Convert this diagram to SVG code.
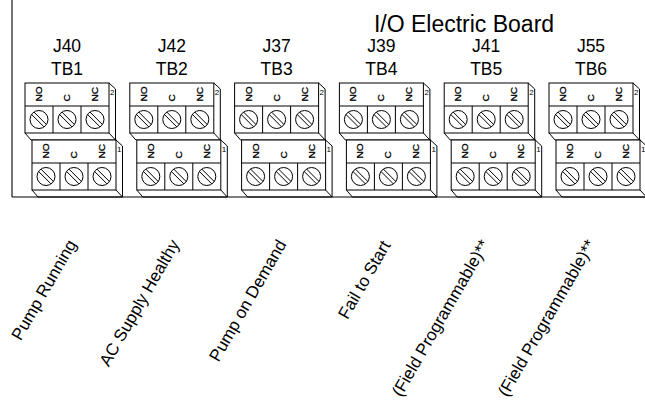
<svg xmlns="http://www.w3.org/2000/svg" xmlns:xlink="http://www.w3.org/1999/xlink" width="645" height="409" viewBox="0 0 645 409">
<style>
.ln{fill:none;stroke:#000;stroke-width:1}
.bx{fill:#fff;stroke:#000;stroke-width:1}
.sm{font-family:"Liberation Sans",Arial,sans-serif;font-size:8px;fill:#000}
.lb{font-family:"Liberation Sans",Arial,sans-serif;font-size:11px;fill:#000;stroke:#000;stroke-width:0.35}
.hd{font-family:"Liberation Sans",Arial,sans-serif;font-size:17.5px;fill:#000;text-anchor:middle}
.tt{font-family:"Liberation Sans",Arial,sans-serif;font-size:23px;fill:#000;text-anchor:middle}
.rl{font-family:"Liberation Sans",Arial,sans-serif;font-size:17px;fill:#000;text-anchor:end}
</style>
<defs>
<g id="screw">
<circle cx="0" cy="0" r="9" class="ln"/>
<path d="M-5.05,-7.45 L7.45,5.05 M-7.45,-5.05 L5.05,7.45" class="ln"/>
</g>
<g id="term">
<rect x="0" y="0" width="84" height="50" class="bx"/>
<path d="M0,23 H84 M28,23 V50 M56,23 V50 M84,0 L90.5,6 V57 M0,50 L6,57 H90.5 M84,50 L90.5,57" class="ln"/>
<use xlink:href="#screw" x="14" y="36.5"/>
<use xlink:href="#screw" x="42" y="36.5"/>
<use xlink:href="#screw" x="70" y="36.5"/>
</g>
</defs>
<g id="board">
<line x1="12" y1="0" x2="12" y2="197" stroke="#444" stroke-width="1.5"/>
<line x1="12" y1="197" x2="645" y2="197" class="ln"/>
<text class="tt" x="464" y="32">I/O Electric Board</text>
</g>
<g id="tb1" transform="translate(0,0)">
<text class="hd" x="67" y="52">J40</text><text class="hd" x="67" y="75">TB1</text>
<use xlink:href="#term" x="25" y="83"/>
<text class="lb" transform="translate(42,101.5) rotate(-90) scale(0.92,0.85)">NO</text>
<text class="lb" transform="translate(70,101.5) rotate(-90) scale(0.92,0.85)">C</text>
<text class="lb" transform="translate(98,101.5) rotate(-90) scale(0.92,0.85)">NC</text>
<text class="sm" x="110" y="95">2</text>
<use xlink:href="#term" x="32" y="140"/>
<text class="lb" transform="translate(49,158.5) rotate(-90) scale(0.92,0.85)">NO</text>
<text class="lb" transform="translate(77,158.5) rotate(-90) scale(0.92,0.85)">C</text>
<text class="lb" transform="translate(105,158.5) rotate(-90) scale(0.92,0.85)">NC</text>
<text class="sm" x="117" y="152">1</text>
<text class="rl" transform="translate(77,244) rotate(-60)">Pump Running</text>
</g>
<g id="tb2" transform="translate(104.8,0)">
<text class="hd" x="67" y="52">J42</text><text class="hd" x="67" y="75">TB2</text>
<use xlink:href="#term" x="25" y="83"/>
<text class="lb" transform="translate(42,101.5) rotate(-90) scale(0.92,0.85)">NO</text>
<text class="lb" transform="translate(70,101.5) rotate(-90) scale(0.92,0.85)">C</text>
<text class="lb" transform="translate(98,101.5) rotate(-90) scale(0.92,0.85)">NC</text>
<text class="sm" x="110" y="95">2</text>
<use xlink:href="#term" x="32" y="140"/>
<text class="lb" transform="translate(49,158.5) rotate(-90) scale(0.92,0.85)">NO</text>
<text class="lb" transform="translate(77,158.5) rotate(-90) scale(0.92,0.85)">C</text>
<text class="lb" transform="translate(105,158.5) rotate(-90) scale(0.92,0.85)">NC</text>
<text class="sm" x="117" y="152">1</text>
<text class="rl" transform="translate(75.2,244) rotate(-60)">AC Supply Healthy</text>
</g>
<g id="tb3" transform="translate(209.6,0)">
<text class="hd" x="67" y="52">J37</text><text class="hd" x="67" y="75">TB3</text>
<use xlink:href="#term" x="25" y="83"/>
<text class="lb" transform="translate(42,101.5) rotate(-90) scale(0.92,0.85)">NO</text>
<text class="lb" transform="translate(70,101.5) rotate(-90) scale(0.92,0.85)">C</text>
<text class="lb" transform="translate(98,101.5) rotate(-90) scale(0.92,0.85)">NC</text>
<text class="sm" x="110" y="95">2</text>
<use xlink:href="#term" x="32" y="140"/>
<text class="lb" transform="translate(49,158.5) rotate(-90) scale(0.92,0.85)">NO</text>
<text class="lb" transform="translate(77,158.5) rotate(-90) scale(0.92,0.85)">C</text>
<text class="lb" transform="translate(105,158.5) rotate(-90) scale(0.92,0.85)">NC</text>
<text class="sm" x="117" y="152">1</text>
<text class="rl" transform="translate(77.4,244) rotate(-60)">Pump on Demand</text>
</g>
<g id="tb4" transform="translate(314.4,0)">
<text class="hd" x="67" y="52">J39</text><text class="hd" x="67" y="75">TB4</text>
<use xlink:href="#term" x="25" y="83"/>
<text class="lb" transform="translate(42,101.5) rotate(-90) scale(0.92,0.85)">NO</text>
<text class="lb" transform="translate(70,101.5) rotate(-90) scale(0.92,0.85)">C</text>
<text class="lb" transform="translate(98,101.5) rotate(-90) scale(0.92,0.85)">NC</text>
<text class="sm" x="110" y="95">2</text>
<use xlink:href="#term" x="32" y="140"/>
<text class="lb" transform="translate(49,158.5) rotate(-90) scale(0.92,0.85)">NO</text>
<text class="lb" transform="translate(77,158.5) rotate(-90) scale(0.92,0.85)">C</text>
<text class="lb" transform="translate(105,158.5) rotate(-90) scale(0.92,0.85)">NC</text>
<text class="sm" x="117" y="152">1</text>
<text class="rl" transform="translate(76.6,245) rotate(-60)">Fail to Start</text>
</g>
<g id="tb5" transform="translate(419.2,0)">
<text class="hd" x="67" y="52">J41</text><text class="hd" x="67" y="75">TB5</text>
<use xlink:href="#term" x="25" y="83"/>
<text class="lb" transform="translate(42,101.5) rotate(-90) scale(0.92,0.85)">NO</text>
<text class="lb" transform="translate(70,101.5) rotate(-90) scale(0.92,0.85)">C</text>
<text class="lb" transform="translate(98,101.5) rotate(-90) scale(0.92,0.85)">NC</text>
<text class="sm" x="110" y="95">2</text>
<use xlink:href="#term" x="32" y="140"/>
<text class="lb" transform="translate(49,158.5) rotate(-90) scale(0.92,0.85)">NO</text>
<text class="lb" transform="translate(77,158.5) rotate(-90) scale(0.92,0.85)">C</text>
<text class="lb" transform="translate(105,158.5) rotate(-90) scale(0.92,0.85)">NC</text>
<text class="sm" x="117" y="152">1</text>
<text class="rl" transform="translate(70.8,244) rotate(-60)">(Field Programmable)**</text>
</g>
<g id="tb6" transform="translate(524,0)">
<text class="hd" x="67" y="52">J55</text><text class="hd" x="67" y="75">TB6</text>
<use xlink:href="#term" x="25" y="83"/>
<text class="lb" transform="translate(42,101.5) rotate(-90) scale(0.92,0.85)">NO</text>
<text class="lb" transform="translate(70,101.5) rotate(-90) scale(0.92,0.85)">C</text>
<text class="lb" transform="translate(98,101.5) rotate(-90) scale(0.92,0.85)">NC</text>
<text class="sm" x="110" y="95">2</text>
<use xlink:href="#term" x="32" y="140"/>
<text class="lb" transform="translate(49,158.5) rotate(-90) scale(0.92,0.85)">NO</text>
<text class="lb" transform="translate(77,158.5) rotate(-90) scale(0.92,0.85)">C</text>
<text class="lb" transform="translate(105,158.5) rotate(-90) scale(0.92,0.85)">NC</text>
<text class="sm" x="117" y="152">1</text>
<text class="rl" transform="translate(72,244) rotate(-60)">(Field Programmable)**</text>
</g>
</svg>
